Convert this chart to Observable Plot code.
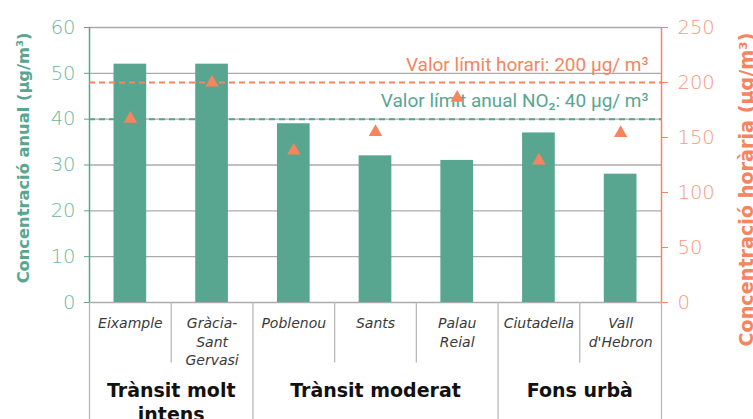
<!DOCTYPE html>
<html>
<head>
<meta charset="utf-8">
<script src="https://cdn.jsdelivr.net/npm/d3@7"></script>
<script src="https://cdn.jsdelivr.net/npm/@observablehq/plot@0.6"></script>
<style>
  html, body { margin: 0; padding: 0; background: #fff; }
  #chart svg { display: block; }
</style>
</head>
<body>
<div id="chart"></div>
<script>
// ---- data ----
const stations = ["Eixample", "Gràcia-\nSant\nGervasi", "Poblenou", "Sants", "Palau\nReial", "Ciutadella", "Vall\nd'Hebron"];
const annual = [52, 52, 39, 32, 31, 37, 28];          // µg/m³ (left axis)
const hourly = [167, 200, 138, 155, 186, 129, 154];   // µg/m³ (right axis)
const groups = ["Trànsit molt\nintens", "Trànsit moderat", "Fons urbà"];
const groupFirst = [0, 2, 5];
const groupLast = [1, 4, 6];
const leftTicks = [0, 10, 20, 30, 40, 50, 60];
const rightTicks = [0, 50, 100, 150, 200, 250];
const annualLimit = 40;
const hourlyLimit = 200;
const leftTitle = "Concentració anual (µg/m³)";
const rightTitle = "Concentració horària (µg/m³)";

// ---- styling ----
const teal = "#58a690";
const tealText = "#6db69f";
const orange = "#f5845f";
const orangeText = "#f7997b";
const grid = "#ababab";
const sep = "#b8b8b8";
const thin = "'DejaVu Sans ExtraLight', 'DejaVu Sans Light', 'DejaVu Sans', sans-serif";
const wide = "'DejaVu Sans', sans-serif";

const leftMax = 60, rightMax = 250;
const toLeft = v => v * leftMax / rightMax;

const rows = stations.map((s, i) => ({i, s, annual: annual[i], hourly: hourly[i]}));
const grp = groups.map((g, k) => ({g, c: (groupFirst[k] + groupLast[k]) / 2}));
const innerSeps = [];
stations.forEach((s, i) => { if (i > 0 && !groupFirst.includes(i)) innerSeps.push(i - 0.5); });
const outerSeps = [-0.5, ...groupLast.map(j => j + 0.5)];

const chart = Plot.plot({
  width: 753,
  height: 419,
  marginLeft: 89,
  marginRight: 92,
  marginTop: 27,
  marginBottom: 117,
  x: {domain: [-0.5, stations.length - 0.5], axis: null},
  y: {domain: [0, leftMax], axis: null},
  style: {fontFamily: "Roboto, 'Noto Sans', sans-serif", background: "white", overflow: "visible"},
  marks: [
    // gridlines
    Plot.ruleY(leftTicks, {stroke: grid, strokeWidth: 1.3}),
    // bars
    Plot.rectY(rows, {x1: d => d.i - 0.2, x2: d => d.i + 0.2, y1: 0, y2: "annual", fill: teal}),
    // category separators below axis
    Plot.ruleX(innerSeps, {y1: 0, y2: -13.2, stroke: sep, strokeWidth: 1.3}),
    Plot.ruleX(outerSeps, {y1: 0, y2: -27, stroke: sep, strokeWidth: 1.3}),
    // axis lines
    Plot.ruleX([-0.5], {y1: 0, y2: leftMax, stroke: teal, strokeWidth: 1.5}),
    Plot.ruleX([stations.length - 0.5], {y1: 0, y2: leftMax, stroke: orange, strokeWidth: 1.5}),
    // left axis
    Plot.axisY(leftTicks, {anchor: "left", label: null, tickSize: 5, tickPadding: 9, stroke: teal, fill: tealText,
      fontSize: 19.5, fontWeight: 200, fontFamily: thin, tickFormat: d => d}),
    // right axis (scaled)
    Plot.axisY(rightTicks.map(toLeft), {anchor: "right", label: null, tickSize: 6, tickPadding: 10, stroke: orange, fill: orangeText,
      fontSize: 19.5, fontWeight: 200, fontFamily: thin, tickFormat: d => Math.round(d * rightMax / leftMax)}),
    // limit lines
    Plot.ruleY([annualLimit], {stroke: teal, strokeWidth: 2, strokeDasharray: "6,4"}),
    Plot.ruleY([toLeft(hourlyLimit)], {stroke: orange, strokeWidth: 2, strokeDasharray: "6,4"}),
    // limit labels
    Plot.text([`Valor límit horari: ${hourlyLimit} µg/ m³`], {x: stations.length - 0.5, y: toLeft(hourlyLimit),
      dx: -13, dy: -11.5, textAnchor: "end", lineAnchor: "bottom", fontSize: 19, fill: orange}),
    Plot.text([`Valor límit anual NO₂: ${annualLimit} µg/ m³`], {x: stations.length - 0.5, y: annualLimit,
      dx: -13, dy: -12.3, textAnchor: "end", lineAnchor: "bottom", fontSize: 19, fill: teal}),
    // hourly triangles
    Plot.dot(rows, {x: "i", y: d => toLeft(d.hourly), symbol: "triangle", r: 5, fill: orange, stroke: "none"}),
    // station labels
    Plot.text(rows, {x: "i", y: 0, dy: 13, text: "s", lineAnchor: "top", fontSize: 14, fontStyle: "italic",
      fontFamily: wide, lineHeight: 1.3, fill: "#3a3a3a"}),
    // group labels
    Plot.text(grp, {x: "c", y: 0, dy: 76.5, text: "g", lineAnchor: "top", fontSize: 19, fontWeight: "bold",
      fontFamily: wide, lineHeight: 1.3, fill: "#111"}),
    // axis titles
    Plot.text([leftTitle], {frameAnchor: "top-left", dx: -66, dy: 5, rotate: -90, textAnchor: "end",
      lineAnchor: "middle", fontSize: 16.3, fontWeight: "bold", fontFamily: wide, fill: teal}),
    Plot.text([rightTitle], {frameAnchor: "top-right", dx: 85, dy: 5, rotate: -90, textAnchor: "end",
      lineAnchor: "middle", fontSize: 19.2, fontWeight: "bold", fontFamily: wide, fill: orange})
  ]
});
document.getElementById("chart").appendChild(chart);
</script>
</body>
</html>
